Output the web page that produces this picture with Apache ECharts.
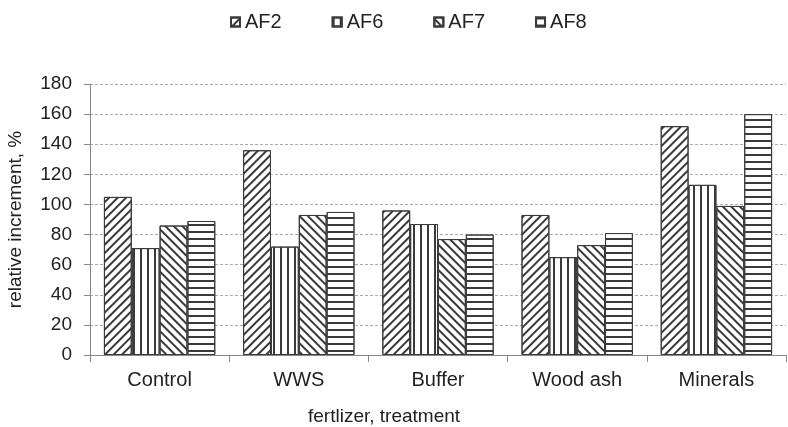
<!DOCTYPE html>
<html>
<head>
<meta charset="utf-8">
<script src="https://cdn.jsdelivr.net/npm/echarts@6/dist/echarts.min.js"></script>
<style>
* { margin: 0; padding: 0; }
body { background: #fff; }
#main { width: 788px; height: 427px; }
</style>
</head>
<body>
<div id="main"></div>
<script>
var categories = ['Control', 'WWS', 'Buffer', 'Wood ash', 'Minerals'];
var seriesNames = ['AF2', 'AF6', 'AF7', 'AF8'];
var af2 = [105, 136, 96, 93, 152];
var af6 = [71, 72, 87, 65, 113];
var af7 = [86, 93, 77, 73, 99];
var af8 = [89, 95, 80, 81, 160];
var yTicks = [0, 20, 40, 60, 80, 100, 120, 140, 160, 180];

var values = [af2, af6, af7, af8];
var lineColor = '#3a3a3a';
// hatch patterns: /, |, \, -
var decals = [
  { symbol: 'rect', symbolSize: 1, color: lineColor, dashArrayX: [1, 0], dashArrayY: [1.3, 4], rotation: -Math.PI / 4 },
  { symbol: 'rect', symbolSize: 1, color: lineColor, dashArrayX: [1.6, 4.5], dashArrayY: [1, 0], rotation: 0 },
  { symbol: 'rect', symbolSize: 1, color: lineColor, dashArrayX: [1, 0], dashArrayY: [1.3, 4], rotation: Math.PI / 4 },
  { symbol: 'rect', symbolSize: 1, color: lineColor, dashArrayX: [1, 0], dashArrayY: [1.6, 4.5], rotation: 0 }
];

var chart = echarts.init(document.getElementById('main'));
var font = 'Liberation Sans, Arial, sans-serif';

chart.setOption({
  animation: false,
  textStyle: { fontFamily: font },
  title: {
    text: 'fertlizer, treatment',
    left: 303,
    top: 402,
    textStyle: { fontSize: 19, fontWeight: 'normal', color: '#222', fontFamily: font }
  },
  legend: {
    top: 7,
    left: 225,
    icon: 'rect',
    itemWidth: 9,
    itemHeight: 9,
    itemGap: 50,
    textStyle: { fontSize: 20, color: '#222', fontFamily: font },
    data: seriesNames
  },
  grid: { left: 90, right: 2, top: 84, bottom: 72, containLabel: false, outerBoundsMode: 'none' },
  xAxis: {
    type: 'category',
    data: categories,
    axisLine: { lineStyle: { color: '#888' } },
    axisTick: { show: true, length: 7, lineStyle: { color: '#888' } },
    axisLabel: { fontSize: 20, color: '#222', margin: 15 }
  },
  yAxis: {
    type: 'value',
    min: 0,
    max: 180,
    interval: 20,
    name: 'relative increment, %',
    nameLocation: 'middle',
    nameGap: 65,
    nameTextStyle: { fontSize: 19, color: '#222' },
    axisLine: { show: true, lineStyle: { color: '#888' } },
    axisTick: { show: true, length: 6, lineStyle: { color: '#888' } },
    axisLabel: {
      fontSize: 19, color: '#222', margin: 18,
      formatter: function (v) { return yTicks.indexOf(v) >= 0 ? String(v) : ''; }
    },
    splitLine: { lineStyle: { color: '#aaa', type: [3, 2] } }
  },
  series: seriesNames.map(function (name, i) {
    return {
      name: name,
      type: 'bar',
      data: values[i],
      barGap: '0%',
      barCategoryGap: '20%',
      itemStyle: {
        color: '#fff',
        borderColor: lineColor,
        borderWidth: 1,
        decal: decals[i]
      }
    };
  })
});
</script>
</body>
</html>
